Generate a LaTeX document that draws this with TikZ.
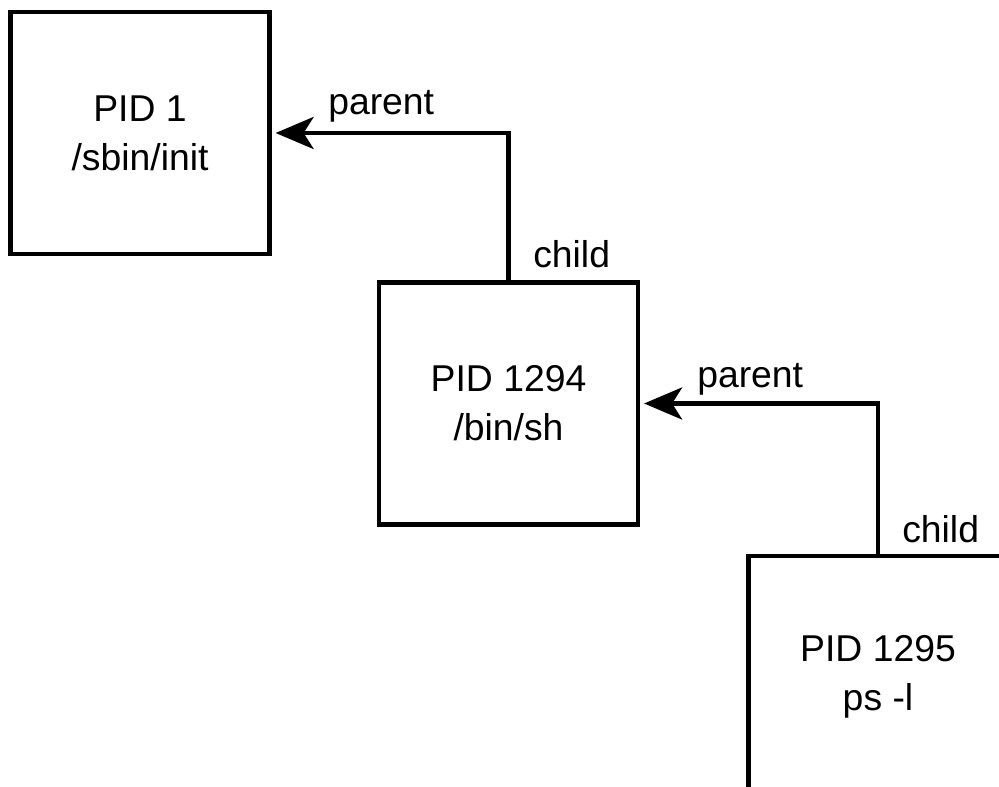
\documentclass[tikz,border=0pt]{standalone}
\usepackage{fontspec}
\setmainfont{Liberation Sans}
\usetikzlibrary{arrows.meta}
\begin{document}
\begin{tikzpicture}[x=0.75pt,y=-0.75pt,
  proc/.style={draw, line width=3.4pt, minimum width=194pt, minimum height=181.5pt,
    inner sep=0pt, align=center, font=\fontsize{28}{36.75}\selectfont},
  lbl/.style={inner sep=0pt, font=\fontsize{28}{34}\selectfont},
  link/.style={line width=3.4pt, -{Stealth[length=28.5pt,width=24pt,inset=7.5pt]}}]
  \useasboundingbox (0,0) rectangle (999,787);
  \clip (0,0) rectangle (999,787);

  % process boxes
  \node[proc] (init) at (140,133)   {PID 1\\/sbin/init};
  \node[proc] (sh)   at (508.5,403.5) {PID 1294\\/bin/sh};
  \node[proc] (ps)   at (878,677)   {PID 1295\\ps -l};

  % child -> parent links
  \draw[link] (sh.north) |- ([xshift=3pt]init.east);
  \draw[link] (ps.north) |- ([xshift=3pt]sh.east);

  % link labels
  \node[lbl, anchor=base west] (par1) at (328,115) {parent};
  \node[lbl, anchor=base west] (chd1) at (533,268) {child};
  \node[lbl, anchor=base west] (par2) at (697,388) {parent};
  \node[lbl, anchor=base west] (chd2) at (902,542) {child};
\end{tikzpicture}
\end{document}
